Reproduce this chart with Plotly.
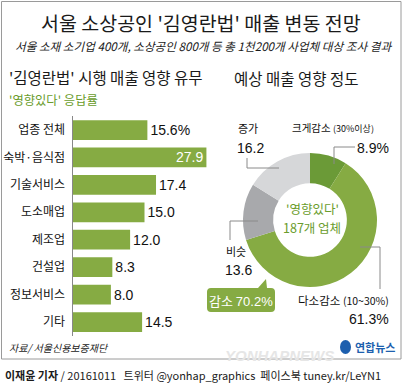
import plotly.graph_objects as go

# ---------------- data ----------------
categories = ["업종 전체", "숙박·음식점", "기술서비스", "도소매업", "제조업", "건설업", "정보서비스", "기타"]
rates = [15.6, 27.9, 17.4, 15.0, 12.0, 8.3, 8.0, 14.5]
rate_labels = ["15.6%", "27.9", "17.4", "15.0", "12.0", "8.3", "8.0", "14.5"]

donut_labels = ["크게감소 (30%이상)", "다소감소 (10~30%)", "비슷", "증가"]
donut_values = [8.9, 61.3, 13.6, 16.2]

W, H = 403, 392
KR = "Noto Sans CJK KR"
NUM = "Liberation Sans"
GREEN = "#86ab43"
DGREEN = "#6b9a37"
GREEN_TXT = "#6a9c2c"


def px(x):
    return x / W


def py(y):
    return 1 - y / H


fig = go.Figure()

# ---------------- bar chart ----------------
x0 = 72.5
scale = 4.8
row0, step = 130, 27.43
fig.add_trace(go.Bar(
    y=categories, x=rates, orientation="h",
    marker=dict(color=GREEN, line=dict(width=0)),
    width=0.72,
    text=rate_labels,
    textposition=["inside" if i == 1 else "outside" for i in range(len(rates))],
    insidetextanchor="end",
    textfont=dict(family=NUM, size=14,
                  color=["white" if i == 1 else "#111" for i in range(len(rates))]),
    constraintext="none",
    cliponaxis=False,
    hoverinfo="skip",
))

fig.update_layout(
    xaxis=dict(domain=[px(x0), px(x0 + 30 * scale)], range=[0, 30], visible=False, fixedrange=True),
    yaxis=dict(
        domain=[py(row0 + 7.5 * step), py(row0 - 0.5 * step)],
        type="category", range=[7.5, -0.5], autorange=False,
        showline=True, linecolor="#888", linewidth=1,
        ticks="", showgrid=False, zeroline=False,
        tickfont=dict(family=KR, size=12, color="#111"),
        ticklabelstandoff=4, fixedrange=True,
    ),
)

# ---------------- donut ----------------
cx, cy, r = 310, 220, 67
fig.add_trace(go.Pie(
    values=donut_values, labels=donut_labels,
    sort=False, direction="clockwise", rotation=0,
    hole=0.55,
    marker=dict(colors=[DGREEN, GREEN, "#a8a9ac", "#d6d7d9"], line=dict(width=0)),
    textinfo="none", hoverinfo="skip", showlegend=False,
    domain=dict(x=[px(cx - r), px(cx + r)], y=[py(cy + r), py(cy - r)]),
))

shapes = []
# frame
shapes.append(dict(type="rect", xref="paper", yref="paper",
                   x0=px(1.5), x1=px(401), y0=py(359), y1=py(1.5),
                   line=dict(color="#9a9a9a", width=1), fillcolor="rgba(0,0,0,0)", layer="below"))


def seg(xa, ya, xb, yb, color="#8a8a8a"):
    shapes.append(dict(type="line", xref="paper", yref="paper",
                       x0=px(xa), y0=py(ya), x1=px(xb), y1=py(yb),
                       line=dict(color=color, width=1)))


# leader lines
seg(247, 158, 247, 168); seg(247, 168, 279, 168)          # 증가
seg(355, 147, 334, 147); seg(334, 147, 334, 164)          # 크게감소
seg(230, 221, 258, 221); seg(230, 221, 230, 240)          # 비슷
seg(360, 247, 380, 247); seg(380, 247, 380, 289)          # 다소감소

# speech bubble for 감소 70.2%
bx0, bx1, by0, by1, rr = 207, 275, 288, 312, 4
path = (f"M {px(bx0+rr)},{py(by0)} L {px(258)},{py(by0)} L {px(266)},{py(279)} L {px(267)},{py(by0)} "
        f"L {px(bx1-rr)},{py(by0)} Q {px(bx1)},{py(by0)} {px(bx1)},{py(by0+rr)} "
        f"L {px(bx1)},{py(by1-rr)} Q {px(bx1)},{py(by1)} {px(bx1-rr)},{py(by1)} "
        f"L {px(bx0+rr)},{py(by1)} Q {px(bx0)},{py(by1)} {px(bx0)},{py(by1-rr)} "
        f"L {px(bx0)},{py(by0+rr)} Q {px(bx0)},{py(by0)} {px(bx0+rr)},{py(by0)} Z")
shapes.append(dict(type="path", xref="paper", yref="paper", path=path,
                   fillcolor=GREEN, line=dict(width=0)))

# yonhap logo circle
shapes.append(dict(type="circle", xref="paper", yref="paper",
                   x0=px(340), x1=px(351), y0=py(354), y1=py(340),
                   fillcolor="#1d5fae", line=dict(width=0)))

annotations = []


def txt(x, y, s, size, color="#111", family=KR, anchor="left", **kw):
    annotations.append(dict(x=px(x), y=py(y), xref="paper", yref="paper", text=s,
                            showarrow=False, xanchor=anchor, yanchor="middle",
                            font=dict(family=family, size=size, color=color), **kw))


# titles
txt(201, 22, "서울 소상공인 '김영란법' 매출 변동 전망", 19.5, "#1a1a1a", anchor="center")
txt(203, 46, "<i>서울 소재 소기업 400개, 소상공인 800개 등 총 1천200개 사업체 대상 조사 결과</i>", 11.6, "#1a1a1a", anchor="center")
txt(7, 77, "'김영란법' 시행 매출 영향 유무", 15.5, "#1a1a1a")
txt(7, 100, "'영향있다' 응답률", 12.3, GREEN_TXT)
txt(296, 78, "예상 매출 영향 정도", 15.5, "#1a1a1a", anchor="center")

# donut labels
txt(236, 128, "증가", 11)
txt(235, 148, "16.2", 14, family=NUM)
txt(376, 128, "크게감소 <span style='font-size:9px'>(30%이상)</span>", 10.5, anchor="right")
txt(391, 148, "8.9%", 14, family=NUM, anchor="right")
txt(224, 251, "비슷", 11)
txt(223, 270, "13.6", 14, family=NUM)
txt(241, 300, "감소 <span style='font-family:Liberation Sans'>70.2%</span>", 13, "white", anchor="center")
txt(391, 300, "다소감소 <span style='font-size:10.5px'>(10~30%)</span>", 11.5, anchor="right")
txt(391, 319, "61.3%", 14, family=NUM, anchor="right")
txt(312, 208, "'영향있다'", 12.5, GREEN_TXT, anchor="center")
txt(312, 227, "187개 업체", 12.5, GREEN_TXT, anchor="center")

# footer
txt(7, 347, "<i>자료/ 서울신용보증재단</i>", 10, "#222")
txt(353, 347, "<b>연합뉴스</b>", 11, "#1d5fae")
txt(336, 355, "<b><i>YONHAPNEWS</i></b>", 15, "#e6e6e6", family=NUM, anchor="right")
txt(3, 375, "<b>이재윤 기자</b> / 20161011   트위터 @yonhap_graphics  페이스북 tuney.kr/LeYN1", 11, "#1a1a1a")

fig.update_layout(
    width=W, height=H, margin=dict(l=0, r=0, t=0, b=0),
    paper_bgcolor="white", plot_bgcolor="white",
    showlegend=False, shapes=shapes, annotations=annotations,
    bargap=0.28,
)

fig.write_html("out.html", config={"displayModeBar": False},
               post_script="document.body.style.margin='0';document.body.style.overflow='hidden';")
